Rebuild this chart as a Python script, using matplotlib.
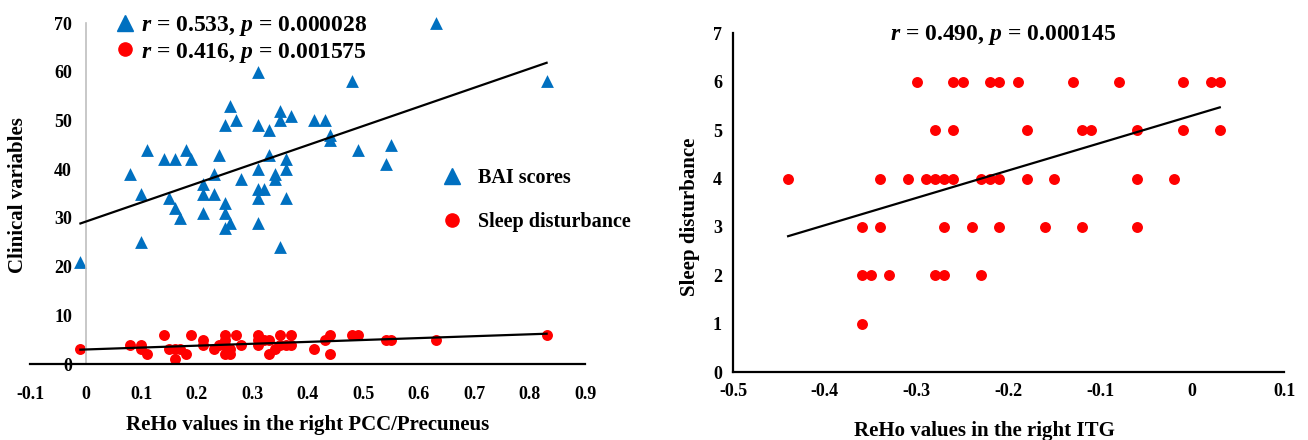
import numpy as np
import matplotlib
matplotlib.use("Agg")
import matplotlib.pyplot as plt
from matplotlib.lines import Line2D

plt.rcParams["font.family"] = ["Liberation Serif", "DejaVu Serif"]
plt.rcParams["font.weight"] = "bold"
plt.rcParams["mathtext.fontset"] = "custom"
plt.rcParams["mathtext.rm"] = "Liberation Serif:bold"
plt.rcParams["mathtext.bf"] = "Liberation Serif:bold"
plt.rcParams["mathtext.it"] = "Liberation Serif:italic:bold"
plt.rcParams["mathtext.bfit"] = "Liberation Serif:italic:bold"

# --------------------------------------------------------------------------- #
# data
# --------------------------------------------------------------------------- #
# left panel: ReHo in right PCC/Precuneus vs BAI scores
bai_x = [-0.01, 0.08, 0.10, 0.10, 0.11, 0.14, 0.15, 0.16, 0.16, 0.17, 0.18, 0.19,
         0.21, 0.21, 0.21, 0.23, 0.23, 0.24, 0.25, 0.25, 0.25, 0.25, 0.26, 0.26,
         0.27, 0.28, 0.31, 0.31, 0.31, 0.31, 0.32, 0.31, 0.31, 0.33, 0.33, 0.34,
         0.34, 0.35, 0.35, 0.35, 0.36, 0.36, 0.36, 0.37, 0.41, 0.43, 0.44, 0.44,
         0.48, 0.49, 0.54, 0.55, 0.63, 0.83]
bai_y = [21, 39, 35, 25, 44, 42, 34, 42, 32, 30, 44, 42,
         37, 35, 31, 39, 35, 43, 49, 33, 31, 28, 29, 53,
         50, 38, 60, 49, 40, 36, 36, 34, 29, 48, 43, 39,
         38, 52, 50, 24, 42, 40, 34, 51, 50, 50, 47, 46,
         58, 44, 41, 45, 70, 58]

# left panel: ReHo in right PCC/Precuneus vs sleep disturbance
sleep_x = [-0.01, 0.08, 0.10, 0.10, 0.11, 0.14, 0.15, 0.16, 0.16, 0.17, 0.18, 0.19,
           0.21, 0.21, 0.23, 0.24, 0.25, 0.25, 0.25, 0.25, 0.26, 0.26, 0.27, 0.28,
           0.31, 0.31, 0.31, 0.32, 0.33, 0.33, 0.34, 0.35, 0.35, 0.36, 0.37, 0.37,
           0.41, 0.43, 0.44, 0.44, 0.48, 0.49, 0.54, 0.55, 0.63, 0.83]
sleep_y = [3, 4, 4, 3, 2, 6, 3, 3, 1, 3, 2, 6,
           5, 4, 3, 4, 6, 5, 4, 2, 3, 2, 6, 4,
           6, 5, 4, 5, 5, 2, 3, 6, 4, 4, 6, 4,
           3, 5, 6, 2, 6, 6, 5, 5, 5, 6]

# right panel: ReHo in right ITG vs sleep disturbance
itg_x = [-0.30, -0.26, -0.25, -0.22, -0.21, -0.19, -0.13, -0.08, -0.01, 0.02, 0.03,
         -0.28, -0.26, -0.18, -0.12, -0.11, -0.06, -0.01, 0.03,
         -0.44, -0.34, -0.31, -0.29, -0.28, -0.27, -0.26, -0.23, -0.22, -0.21,
         -0.18, -0.15, -0.06, -0.02,
         -0.36, -0.34, -0.27, -0.24, -0.21, -0.16, -0.12, -0.06,
         -0.36, -0.35, -0.33, -0.28, -0.27, -0.23,
         -0.36]
itg_y = [6] * 11 + [5] * 8 + [4] * 14 + [3] * 8 + [2] * 6 + [1]

left_xticks = [-0.1, 0, 0.1, 0.2, 0.3, 0.4, 0.5, 0.6, 0.7, 0.8, 0.9]
left_xlabels = ["-0.1", "0", "0.1", "0.2", "0.3", "0.4", "0.5", "0.6", "0.7", "0.8", "0.9"]
left_yticks = [0, 10, 20, 30, 40, 50, 60, 70]
right_xticks = [-0.5, -0.4, -0.3, -0.2, -0.1, 0, 0.1]
right_xlabels = ["-0.5", "-0.4", "-0.3", "-0.2", "-0.1", "0", "0.1"]
right_yticks = [0, 1, 2, 3, 4, 5, 6, 7]

stats_bai = r"$\mathbfit{r}$ = 0.533, $\mathbfit{p}$ = 0.000028"
stats_sleep = r"$\mathbfit{r}$ = 0.416, $\mathbfit{p}$ = 0.001575"
stats_itg = r"$\mathbfit{r}$ = 0.490, $\mathbfit{p}$ = 0.000145"

BLUE = "#0070C0"
RED = "#FF0000"


def trend(ax, x, y):
    x = np.asarray(x, float)
    y = np.asarray(y, float)
    k, b = np.polyfit(x, y, 1)
    xs = np.array([x.min(), x.max()])
    ax.plot(xs, k * xs + b, color="black", lw=1.6, zorder=3)


fig = plt.figure(figsize=(13.08, 4.4), dpi=100)

# --------------------------------------------------------------------------- #
# left panel
# --------------------------------------------------------------------------- #
ax1 = fig.add_axes([0.0233, 0.1727, 0.4243, 0.775])
ax1.scatter(bai_x, bai_y, marker="^", s=85, color=BLUE, lw=0, zorder=2, clip_on=False)
ax1.scatter(sleep_x, sleep_y, marker="o", s=62, color=RED, lw=0, zorder=2, clip_on=False)
trend(ax1, bai_x, bai_y)
trend(ax1, sleep_x, sleep_y)
ax1.set_xlim(-0.1, 0.9)
ax1.set_ylim(0, 70)
ax1.spines["left"].set_position(("data", 0))
ax1.spines["left"].set_color("#BFBFBF")
ax1.spines["left"].set_linewidth(1.2)
ax1.spines["bottom"].set_linewidth(1.6)
ax1.spines["right"].set_visible(False)
ax1.spines["top"].set_visible(False)
ax1.set_xticks(left_xticks, left_xlabels)
ax1.set_yticks(left_yticks)
ax1.tick_params(axis="x", length=0, pad=16, labelsize=13)
ax1.tick_params(axis="y", length=0, pad=10, labelsize=13)

h_tri = Line2D([], [], marker="^", ls="", color=BLUE, ms=11)
h_dot = Line2D([], [], marker="o", ls="", color=RED, ms=9.5)
leg1 = ax1.legend([h_tri, h_dot], [stats_bai, stats_sleep], loc="upper left",
                  bbox_to_anchor=(0.137, 1.06), frameon=False, fontsize=17,
                  handlelength=0.6, handletextpad=0.35, labelspacing=0.1,
                  borderpad=0)
ax1.add_artist(leg1)
ax1.legend([h_tri, h_dot], ["BAI scores", "Sleep disturbance"], loc="upper left",
           bbox_to_anchor=(0.727, 0.605), frameon=False, fontsize=14.5,
           handlelength=0.8, handletextpad=0.9, labelspacing=1.2, borderpad=0)

fig.text(0.2355, 0.034, "ReHo values in the right PCC/Precuneus", ha="center",
         va="center", fontsize=15)
fig.text(0.0138, 0.557, "Clinical variables", ha="center", va="center",
         rotation=90, fontsize=15)

# --------------------------------------------------------------------------- #
# right panel
# --------------------------------------------------------------------------- #
ax2 = fig.add_axes([0.5604, 0.1539, 0.4213, 0.7705])
ax2.scatter(itg_x, itg_y, marker="o", s=62, color=RED, lw=0, zorder=2)
trend(ax2, itg_x, itg_y)
ax2.set_xlim(-0.5, 0.1)
ax2.set_ylim(0, 7)
for side in ("left", "bottom"):
    ax2.spines[side].set_linewidth(1.6)
ax2.spines["right"].set_visible(False)
ax2.spines["top"].set_visible(False)
ax2.set_xticks(right_xticks, right_xlabels)
ax2.set_yticks(right_yticks)
ax2.tick_params(axis="x", length=0, pad=8, labelsize=13)
ax2.tick_params(axis="y", length=0, pad=8, labelsize=13)
ax2.text(0.49, 0.995, stats_itg, transform=ax2.transAxes, ha="center", va="center",
         fontsize=17)

fig.text(0.753, 0.02, "ReHo values in the right ITG", ha="center", va="center",
         fontsize=15)
fig.text(0.5275, 0.507, "Sleep disturbance", ha="center", va="center",
         rotation=90, fontsize=15)

fig.savefig("out.png", dpi=100)
